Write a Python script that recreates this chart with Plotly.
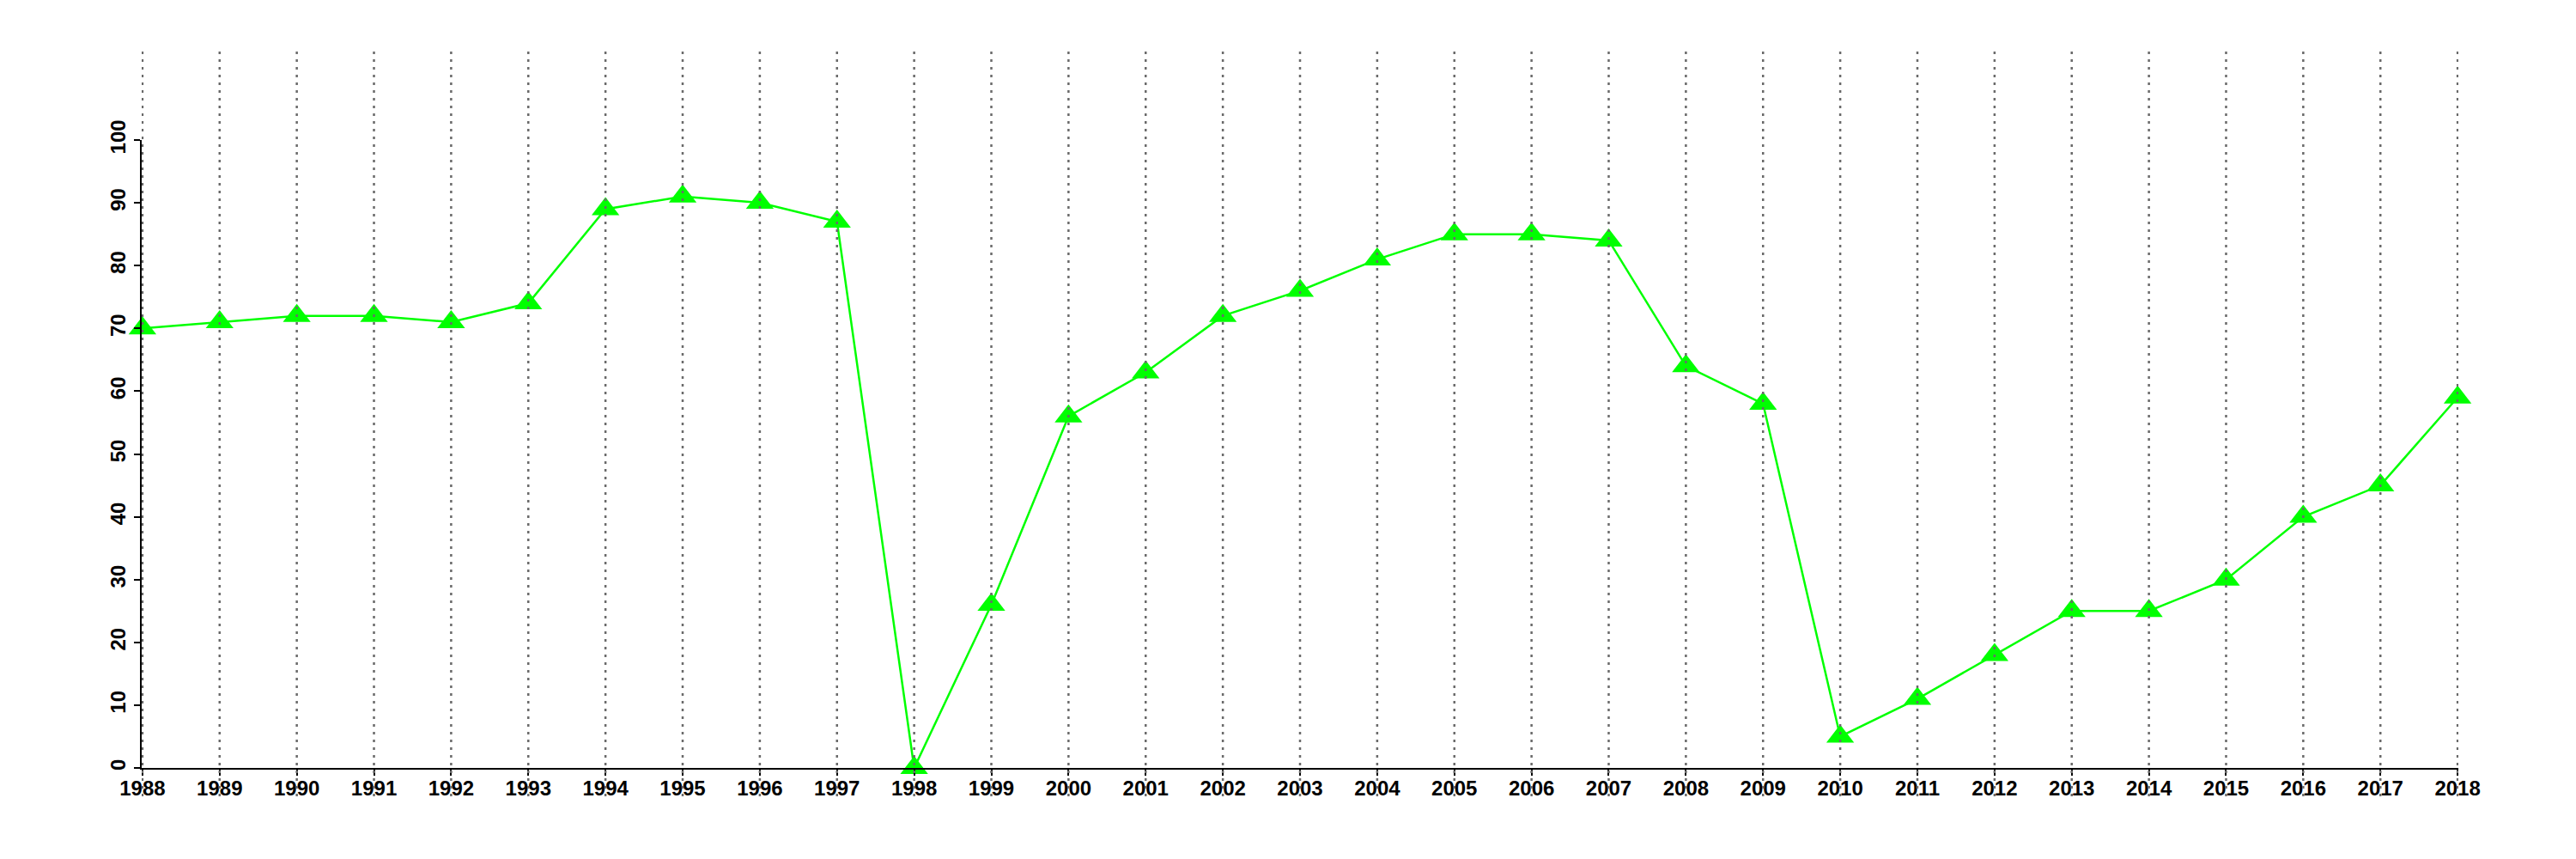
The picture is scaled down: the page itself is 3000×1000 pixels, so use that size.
import plotly.graph_objects as go

years = list(range(1988, 2019))
values = [70, 71, 72, 72, 71, 74, 89, 91, 90, 87, 0, 26, 56, 63, 72, 76, 81, 85, 85, 84,
          64, 58, 5, 11, 18, 25, 25, 30, 40, 45, 59]
y_ticks = [0, 10, 20, 30, 40, 50, 60, 70, 80, 90, 100]

GREEN = "#00FF00"
FONT = dict(family="Liberation Sans, Arial, sans-serif", size=24, color="black", weight="bold")

fig = go.Figure()
fig.add_trace(go.Scatter(
    x=years, y=values, mode="lines+markers",
    line=dict(color=GREEN, width=2.5),
    marker=dict(symbol="triangle-up", size=28, color=GREEN, line=dict(width=0)),
    cliponaxis=False, showlegend=False,
))

# dotted vertical grid lines extending above and below the plotting region, drawn above data
for yr in years:
    fig.add_shape(type="line", xref="x", yref="paper", x0=yr, x1=yr, y0=-0.0451, y1=1.1409,
                  line=dict(color="#6a6a6a", width=2.5, dash="3px,6px"), layer="above")

fig.update_layout(
    width=2992, height=992,
    margin=dict(l=157, r=137, t=155, b=106),
    paper_bgcolor="white", plot_bgcolor="white",
    xaxis=dict(range=[1987.99, 2018.01], tickvals=years, ticktext=[str(y) for y in years],
               showgrid=False, zeroline=False, showline=True, linecolor="black", linewidth=2,
               ticks="outside", ticklen=7, tickwidth=2, tickcolor="black", tickfont=FONT,
               tickangle=0, ticklabelstandoff=-6),
    yaxis=dict(range=[0, 100], tickvals=y_ticks, ticktext=[str(v) for v in y_ticks],
               showgrid=False, zeroline=False, showline=True, linecolor="black", linewidth=2,
               ticks="outside", ticklen=7, tickwidth=2, tickcolor="black", tickfont=FONT,
               tickangle=-90),
)

fig.write_html("out.html")
